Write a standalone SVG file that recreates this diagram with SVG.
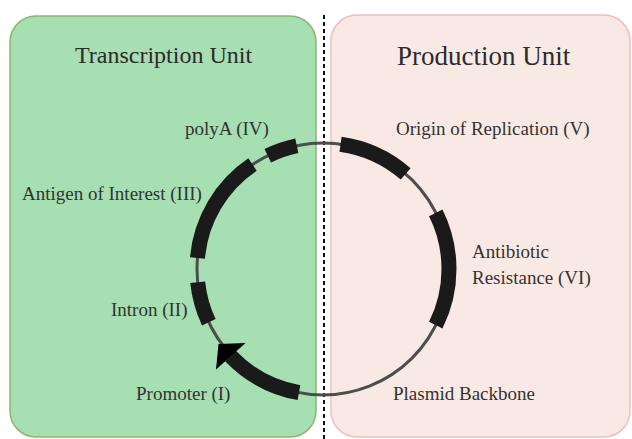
<svg xmlns="http://www.w3.org/2000/svg" width="632" height="439" viewBox="0 0 632 439">
<style>
.lbl{font-family:"Liberation Serif","Times New Roman",serif;font-size:19px;fill:#333333}
.ttl{font-family:"Liberation Serif","Times New Roman",serif;fill:#2b2b2b}
.seg{fill:none;stroke:#1a1a1a;stroke-width:15;stroke-linecap:butt}
.bb{fill:none;stroke:#4d4d4d;stroke-width:3}
</style>
<rect width="632" height="439" fill="#ffffff"/>
<g id="transcription-unit">
<rect x="10" y="16" width="306" height="421" rx="26" fill="#a6dfb1" stroke="#8fb56e" stroke-width="1.5"/>
<text class="ttl" x="75" y="63" font-size="24">Transcription Unit</text>
</g>
<g id="production-unit">
<rect x="331" y="15" width="299" height="422" rx="26" fill="#f9e9e4" stroke="#f2bcbc" stroke-width="1.5"/>
<text class="ttl" x="397" y="65" font-size="27">Production Unit</text>
</g>
<line x1="324" y1="15" x2="324" y2="439" stroke="#111" stroke-width="2" stroke-dasharray="4,3"/>
<g id="connectors">
<circle id="plasmid-backbone-ring" class="bb" cx="323" cy="269" r="126"/>
</g>
<g id="polyA">
<path class="seg" d="M267.76 155.75 A126 126 0 0 1 296.8 145.76"/>
<text class="lbl" x="185" y="135">polyA (IV)</text>
</g>
<g id="antigen">
<path class="seg" d="M197.48 258.01 A126 126 0 0 1 252.54 164.55"/>
<text class="lbl" x="22" y="200">Antigen of Interest (III)</text>
</g>
<g id="intron">
<path class="seg" d="M208.81 322.25 A126 126 0 0 1 197.69 282.17"/>
<text class="lbl" x="111" y="316">Intron (II)</text>
</g>
<g id="promoter">
<path class="seg" stroke="#000" stroke-width="15" d="M298.96 392.68 A126 126 0 0 1 230.5 356"/>
<polygon points="218.5,344 245.5,343 216,369.5" fill="#000"/>
<text class="lbl" x="136" y="400">Promoter (I)</text>
</g>
<g id="origin">
<path class="seg" d="M340.54 144.22 A126 126 0 0 1 405.67 173.91"/>
<text class="lbl" x="396" y="135">Origin of Replication (V)</text>
</g>
<g id="resistance">
<path class="seg" d="M435.76 212.78 A126 126 0 0 1 435.76 325.22"/>
<text class="lbl" x="472" y="258">Antibiotic</text>
<text class="lbl" x="472" y="284">Resistance (VI)</text>
</g>
<g id="backbone">
<text class="lbl" x="393" y="400">Plasmid Backbone</text>
</g>
</svg>
